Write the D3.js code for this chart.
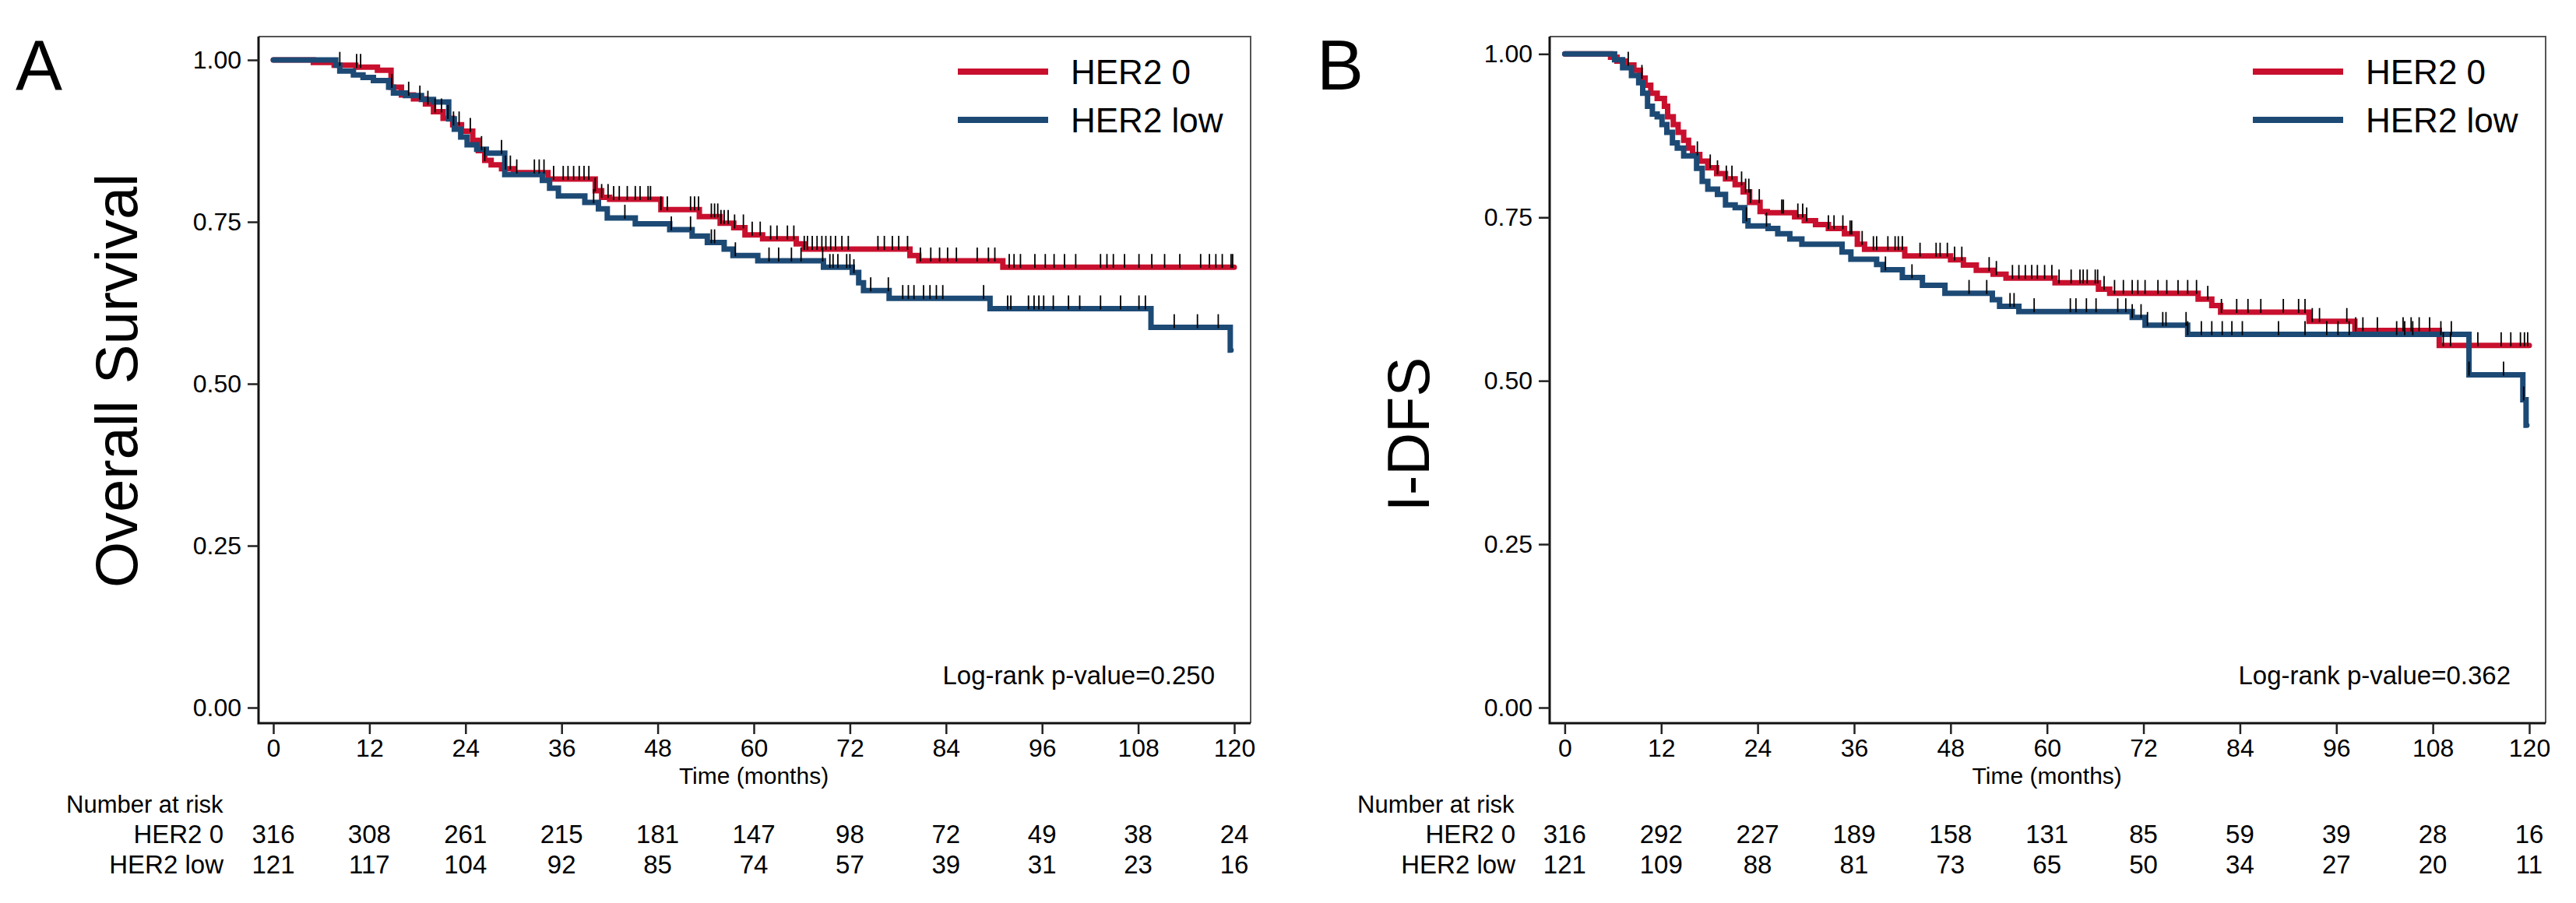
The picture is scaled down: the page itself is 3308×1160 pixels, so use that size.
<!DOCTYPE html>
<html>
<head>
<meta charset="utf-8">
<script src="https://cdn.jsdelivr.net/npm/d3@7"></script>
<style>
body { margin: 0; background: #fff; }
text { font-family: 'Liberation Sans', Arial, sans-serif; fill: #000; }
</style>
</head>
<body>
<svg id="chart" width="3308" height="1160"></svg>
<script>
const timeTicks = [0, 12, 24, 36, 48, 60, 72, 84, 96, 108, 120];
const survTicks = [0, 0.25, 0.5, 0.75, 1];
const groups = ['HER2 0', 'HER2 low'];
const groupColors = ['#c8102e', '#1d4a75'];

// panel A - overall survival, steps as [month, survival from that month on]
const osHer20 = [[0, 1], [5.0, 0.996], [7.6, 0.992], [10.3, 0.989], [13.0, 0.984], [14.7, 0.958], [16.0, 0.946],
    [17.5, 0.940], [19.0, 0.932], [20.0, 0.920], [21.2, 0.910], [22.4, 0.900], [23.5, 0.890], [24.9, 0.876],
    [25.6, 0.860], [26.4, 0.845], [27.2, 0.838], [28.5, 0.832], [30.0, 0.826], [34.3, 0.816], [40.2, 0.798],
    [41.0, 0.788], [42.0, 0.785], [48.4, 0.769], [53.2, 0.758], [55.8, 0.748], [57.5, 0.741], [58.9, 0.730],
    [61.1, 0.724], [65.3, 0.716], [66.3, 0.708], [79.5, 0.698], [80.6, 0.690], [91.1, 0.680], [120, 0.680]];
const osLow = [[0, 1], [7.8, 0.992], [8.3, 0.983], [10.0, 0.977], [11.2, 0.973], [12.5, 0.968], [14.4, 0.958],
    [15.0, 0.949], [16.5, 0.945], [18.5, 0.939], [20.0, 0.935], [21.9, 0.909], [22.6, 0.893], [23.4, 0.881],
    [24.2, 0.869], [25.4, 0.862], [26.6, 0.856], [28.9, 0.823], [33.6, 0.814], [34.5, 0.802], [35.6, 0.790],
    [38.9, 0.780], [40.6, 0.770], [41.7, 0.756], [45.2, 0.747], [49.5, 0.738], [52.3, 0.728], [54.2, 0.718],
    [56.3, 0.708], [57.4, 0.698], [60.5, 0.690], [68.7, 0.680], [72.3, 0.672], [73.1, 0.656], [73.7, 0.644],
    [76.9, 0.632], [89.5, 0.616], [109.6, 0.587], [119.5, 0.552], [119.6, 0.552]];
const osHer20Censor = [8.3, 10.4, 10.9, 14.8, 16.9, 18.3, 19.3, 20.2, 21.0, 21.8, 22.5, 23.2, 24.6, 26.4, 29.0,
    29.6, 30.4, 32.6, 33.2, 33.8, 35.0, 36.2, 36.8, 37.5, 38.2, 38.8, 39.4, 40.2, 41.0, 41.8, 42.5, 43.2, 44.2,
    45.2, 45.8, 46.8, 47.1, 48.4, 49.2, 52.1, 52.6, 53.1, 54.7, 55.1, 55.5, 55.9, 56.3, 56.8, 57.6, 58.7, 59.8,
    60.8, 62.1, 62.9, 64.2, 65.0, 66.3, 66.7, 67.3, 67.9, 68.5, 69.0, 69.6, 70.2, 71.0, 71.8, 75.5, 76.3, 77.3,
    78.1, 79.2, 80.8, 82.1, 83.2, 84.2, 85.3, 87.9, 89.3, 90.1, 91.9, 92.5, 93.3, 95.1, 96.4, 97.5, 98.8, 100.2,
    103.3, 104.1, 104.9, 106.3, 108.1, 109.7, 111.3, 113.2, 115.8, 116.9, 117.7, 118.5, 119.6, 119.8];
const osLowCensor = [26.0, 28.5, 40.0, 43.9, 49.7, 52.1, 54.7, 55.1, 57.7, 61.9, 63.1, 64.7, 65.9, 68.6, 69.5,
    69.9, 70.5, 71.6, 72.0, 72.5, 74.6, 76.8, 78.6, 79.3, 80.0, 81.2, 82.0, 82.8, 83.6, 88.7, 91.7, 92.1, 94.3,
    95.0, 95.6, 96.2, 97.4, 99.3, 100.7, 103.3, 105.8, 108.1, 108.9, 112.5, 115.4, 118.0];
const osRiskHer20 = [316, 308, 261, 215, 181, 147, 98, 72, 49, 38, 24];
const osRiskLow = [121, 117, 104, 92, 85, 74, 57, 39, 31, 23, 16];

// panel B - invasive disease-free survival
const dfsHer20 = [[0, 1], [5.7, 0.995], [6.5, 0.989], [7.5, 0.983], [8.6, 0.975], [9.4, 0.963], [10.0, 0.952],
    [10.7, 0.940], [11.5, 0.932], [12.4, 0.920], [12.8, 0.904], [13.5, 0.892], [14.1, 0.880], [14.8, 0.868],
    [15.4, 0.856], [15.9, 0.846], [16.8, 0.836], [17.8, 0.826], [18.9, 0.817], [20.0, 0.809], [21.2, 0.800],
    [22.2, 0.789], [23.0, 0.773], [24.3, 0.759], [25.2, 0.757], [28.6, 0.751], [29.8, 0.745], [31.2, 0.739],
    [32.8, 0.733], [34.8, 0.725], [36.4, 0.709], [37.3, 0.701], [42.3, 0.691], [48.0, 0.685], [49.6, 0.677],
    [51.2, 0.669], [53.3, 0.663], [54.9, 0.657], [61.0, 0.650], [66.4, 0.640], [67.8, 0.634], [78.8, 0.625],
    [80.5, 0.615], [81.6, 0.605], [92.6, 0.591], [98.3, 0.577], [108.8, 0.554], [120, 0.554]];
const dfsLow = [[0, 1], [6.2, 0.991], [7.2, 0.979], [8.3, 0.967], [9.2, 0.956], [9.7, 0.940], [10.3, 0.920],
    [10.9, 0.908], [11.5, 0.904], [12.1, 0.892], [12.7, 0.880], [13.4, 0.864], [14.0, 0.856], [14.8, 0.844],
    [16.4, 0.825], [17.1, 0.805], [17.8, 0.793], [19.0, 0.785], [20.0, 0.769], [21.2, 0.765], [22.4, 0.745],
    [22.8, 0.737], [25.3, 0.733], [26.5, 0.725], [28.0, 0.717], [29.5, 0.709], [34.5, 0.697], [35.6, 0.686],
    [38.8, 0.678], [39.6, 0.670], [42.0, 0.658], [44.5, 0.646], [47.3, 0.634], [53.2, 0.624], [54.1, 0.614],
    [56.5, 0.606], [70.6, 0.597], [72.2, 0.585], [77.5, 0.571], [112.5, 0.509], [119.2, 0.471], [119.6, 0.432],
    [119.7, 0.432]];
const dfsHer20Censor = [7.9, 9.6, 16.5, 18.1, 19.0, 20.1, 20.8, 22.0, 22.5, 22.9, 23.1, 24.2, 27.0, 27.2, 29.0,
    29.6, 30.1, 32.8, 33.5, 34.6, 35.5, 35.7, 37.0, 38.4, 38.8, 40.2, 41.1, 41.5, 42.0, 44.2, 46.2, 46.7, 47.6,
    48.5, 49.4, 52.8, 53.7, 55.7, 56.5, 57.3, 58.1, 58.8, 59.7, 60.6, 61.5, 63.0, 64.1, 64.5, 65.0, 66.0, 66.3,
    67.1, 68.4, 69.5, 70.6, 71.3, 72.2, 73.8, 74.9, 76.3, 77.5, 78.6, 80.0, 81.7, 83.6, 85.0, 86.6, 89.4, 91.3,
    92.1, 93.0, 93.9, 97.3, 98.4, 99.3, 101.1, 104.3, 105.3, 106.3, 107.6, 109.3, 110.2, 113.6, 116.5, 117.7,
    118.9, 119.4, 119.8];
const dfsLowCensor = [22.6, 25.1, 39.9, 43.2, 50.3, 52.5, 55.4, 55.9, 58.4, 62.9, 63.6, 64.9, 66.1, 68.8, 69.8,
    70.6, 71.7, 72.5, 74.4, 74.8, 77.3, 77.5, 79.2, 80.5, 81.8, 83.0, 84.3, 88.8, 92.1, 94.8, 96.2, 97.6, 103.5,
    104.5, 105.5, 109.0, 110.3, 112.5, 116.8, 119.3];
const dfsRiskHer20 = [316, 292, 227, 189, 158, 131, 85, 59, 39, 28, 16];
const dfsRiskLow = [121, 109, 88, 81, 73, 65, 50, 34, 27, 20, 11];

const panels = [
    {
        letter: 'A', letterX: 20, frame: [332, 1606, 47, 929], xRange: [351, 1585], yRange: [909, 77],
        title: 'Overall Survival', titleX: 176, titleY: 489, pText: 'Log-rank p-value=0.250', pX: 1560,
        legendX: 1230, riskHeadX: 85, riskLabelX: 287,
        steps: [osHer20, osLow], censor: [osHer20Censor, osLowCensor], risk: [osRiskHer20, osRiskLow]
    },
    {
        letter: 'B', letterX: 1691, frame: [1990, 3269, 47, 929], xRange: [2009.4, 3248], yRange: [909, 69.3],
        title: 'I-DFS', titleX: 1835, titleY: 558, pText: 'Log-rank p-value=0.362', pX: 3224,
        legendX: 2893, riskHeadX: 1743, riskLabelX: 1946,
        steps: [dfsHer20, dfsLow], censor: [dfsHer20Censor, dfsLowCensor], risk: [dfsRiskHer20, dfsRiskLow]
    }
];

const svg = d3.select('#chart');
svg.append('rect').attr('width', 3308).attr('height', 1160).attr('fill', '#fff');
panels.forEach(p => drawPanel(svg, p));

function stepValue(steps, t) {
    let v = steps[0][1];
    for (const s of steps) {
        if (s[0] <= t) {
            v = s[1];
        } else {
            break;
        }
    }
    return v;
}

function drawPanel(parent, p) {
    const g = parent.append('g');
    const x = d3.scaleLinear().domain([0, 120]).range(p.xRange);
    const y = d3.scaleLinear().domain([0, 1]).range(p.yRange);
    const [fx0, fx1, fy0, fy1] = p.frame;

    // plot region outline: light top/right, dark axes
    g.append('path')
        .attr('d', `M${fx0},${fy0}H${fx1}V${fy1}`)
        .attr('fill', 'none').attr('stroke', '#555').attr('stroke-width', 2);
    g.append('path')
        .attr('d', `M${fx0},${fy0}V${fy1}H${fx1}`)
        .attr('fill', 'none').attr('stroke', '#111').attr('stroke-width', 3);

    // axes
    const xAxis = g.append('g')
        .attr('transform', `translate(0,${fy1})`)
        .call(d3.axisBottom(x).tickValues(timeTicks).tickSize(14).tickPadding(6));
    const yAxis = g.append('g')
        .attr('transform', `translate(${fx0},0)`)
        .call(d3.axisLeft(y).tickValues(survTicks).tickFormat(d3.format('.2f')).tickSize(14).tickPadding(8));
    [xAxis, yAxis].forEach(a => {
        a.select('.domain').remove();
        a.selectAll('line').attr('stroke', '#222').attr('stroke-width', 2.5);
        a.selectAll('text').style('font-size', '32px').attr('fill', '#000')
            .style('font-family', "'Liberation Sans', Arial, sans-serif");
    });

    g.append('text')
        .attr('x', x(60)).attr('y', 1007)
        .attr('text-anchor', 'middle')
        .style('font-size', '30px')
        .text('Time (months)');

    g.append('text')
        .attr('transform', `translate(${p.titleX},${p.titleY}) rotate(-90)`)
        .attr('text-anchor', 'middle')
        .style('font-size', '76px')
        .text(p.title);

    g.append('text')
        .attr('x', p.letterX).attr('y', 115)
        .style('font-size', '90px')
        .text(p.letter);

    // survival curves
    const line = d3.line()
        .x(d => x(d[0]))
        .y(d => y(d[1]))
        .curve(d3.curveStepAfter);
    p.steps.forEach((s, i) => {
        g.append('path')
            .datum(s)
            .attr('d', line)
            .attr('fill', 'none')
            .attr('stroke', groupColors[i])
            .attr('stroke-width', 7)
            .attr('stroke-linejoin', 'miter')
            .attr('stroke-linecap', 'round');
    });

    // censoring marks
    p.censor.forEach((c, i) => {
        g.append('g').selectAll('line')
            .data(c)
            .join('line')
            .attr('x1', d => x(d)).attr('x2', d => x(d))
            .attr('y1', d => y(stepValue(p.steps[i], d)) - 17)
            .attr('y2', d => y(stepValue(p.steps[i], d)) + 1)
            .attr('stroke', '#000')
            .attr('stroke-width', 1.8);
    });

    // legend
    groups.forEach((name, i) => {
        const ly = 92 + i * 62;
        g.append('line')
            .attr('x1', p.legendX).attr('x2', p.legendX + 116)
            .attr('y1', ly).attr('y2', ly)
            .attr('stroke', groupColors[i]).attr('stroke-width', 8);
        g.append('text')
            .attr('x', p.legendX + 145).attr('y', ly + 16)
            .style('font-size', '44px')
            .text(name);
    });

    g.append('text')
        .attr('x', p.pX).attr('y', 879)
        .attr('text-anchor', 'end')
        .style('font-size', '33px')
        .text(p.pText);

    // number at risk table
    g.append('text')
        .attr('x', p.riskHeadX).attr('y', 1044)
        .style('font-size', '31px')
        .text('Number at risk');
    p.risk.forEach((row, i) => {
        const ry = 1083 + i * 39;
        g.append('text')
            .attr('x', p.riskLabelX).attr('y', ry)
            .attr('text-anchor', 'end')
            .style('font-size', '33px')
            .text(groups[i]);
        g.append('g').selectAll('text')
            .data(row)
            .join('text')
            .attr('x', (d, j) => x(timeTicks[j]))
            .attr('y', ry)
            .attr('text-anchor', 'middle')
            .style('font-size', '33px')
            .text(d => d);
    });
}
</script>
</body>
</html>
